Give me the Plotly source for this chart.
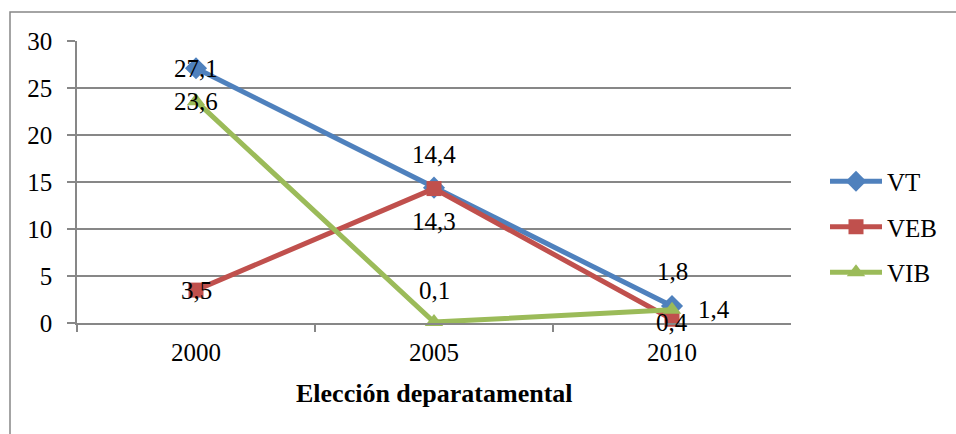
import plotly.graph_objects as go

years = ["2000", "2005", "2010"]
vt = [27.1, 14.4, 1.8]
veb = [3.5, 14.3, 0.4]
vib = [23.6, 0.1, 1.4]
y_ticks = [0, 5, 10, 15, 20, 25, 30]

FONT = "Liberation Serif, Times New Roman, serif"
GRID = "#878787"
FS = 25
W, H = 956, 434

# plot area in pixels
PX0, PX1, PY0, PY1 = 77, 791, 41, 323


def fmt(v):
    return f"{v:.1f}".replace(".", ",")


# name, values, colour, marker, marker size, label offsets (dx, dy) per point
series = [
    ("VT", vt, "#4F81BD", "diamond", 17, [(0, 0), (0, 33), (0, 35)]),
    ("VEB", veb, "#C0504D", "square", 15, [(0, 0), (0, -33), (0, -3)]),
    ("VIB", vib, "#9BBB59", "triangle-up", 16, [(0, 0), (0, 32), (42, 0)]),
]

fig = go.Figure()
for name, vals, color, symbol, size, offs in series:
    fig.add_trace(go.Scatter(
        x=years, y=vals, name=name, mode="lines+markers", legendgroup=name,
        line=dict(color=color, width=5),
        marker=dict(symbol=symbol, size=size, color=color),
        cliponaxis=False,
    ))
    for i, (v, (dx, dy)) in enumerate(zip(vals, offs)):
        fig.add_annotation(x=i, y=v, xref="x", yref="y", text=fmt(v),
                           showarrow=False, xshift=dx, yshift=dy,
                           font=dict(family=FONT, size=FS, color="black"))

# axis title
fig.add_annotation(x=(PX0 + PX1) / 2 / W, y=1 - 393 / H, xref="paper", yref="paper",
                   text="<b>Elección deparatamental</b>", showarrow=False,
                   xanchor="center", yanchor="middle",
                   font=dict(family=FONT, size=26, color="black"))

# outer chart frame (partially cut off at right and bottom)
fig.add_shape(type="rect", xref="paper", yref="paper",
              x0=10 / W, x1=1.01, y0=-0.02, y1=1 - 12 / H,
              line=dict(color=GRID, width=1.5), fillcolor="rgba(0,0,0,0)", layer="below")

fig.update_layout(
    width=W, height=H,
    margin=dict(l=0, r=0, t=0, b=0, autoexpand=False),
    paper_bgcolor="white", plot_bgcolor="white",
    font=dict(family=FONT, size=FS, color="black"),
    showlegend=True,
    legend=dict(x=825 / W, y=1 - 227 / H, xanchor="left", yanchor="middle",
                font=dict(family=FONT, size=FS), itemwidth=52,
                tracegroupgap=10, bgcolor="rgba(0,0,0,0)"),
    xaxis=dict(
        domain=[PX0 / W, PX1 / W], automargin=False,
        type="category", range=[-0.5, 2.5], tickson="boundaries",
        ticks="outside", ticklen=7, tickcolor=GRID, tickwidth=1.5,
        showline=True, linecolor=GRID, linewidth=1.5,
        showgrid=False, tickfont=dict(family=FONT, size=FS),
        ticklabelstandoff=6,
    ),
    yaxis=dict(
        domain=[1 - PY1 / H, 1 - PY0 / H], automargin=False,
        range=[0, 30], tickvals=y_ticks, ticks="outside", ticklen=8,
        tickcolor=GRID, tickwidth=1.5,
        showline=True, linecolor=GRID, linewidth=1.5,
        showgrid=True, gridcolor=GRID, gridwidth=1.5, zeroline=False,
        tickfont=dict(family=FONT, size=FS), ticklabelstandoff=10,
    ),
)

fig.write_html("out.html")
